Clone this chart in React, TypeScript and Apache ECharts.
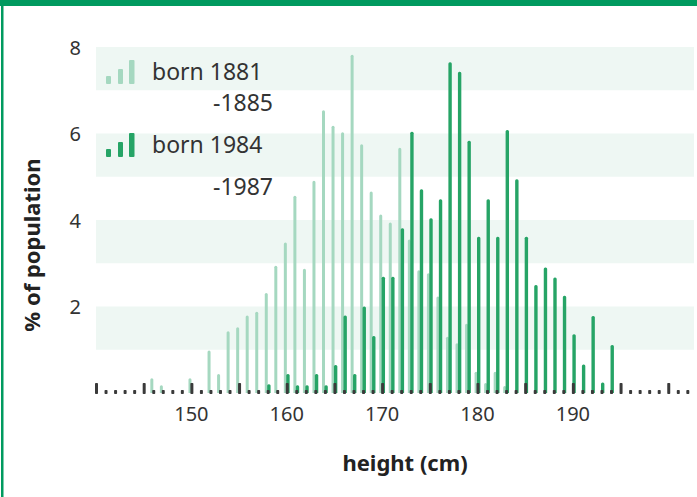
import React, { useEffect, useRef } from "react";
import * as echarts from "echarts";

// heights (cm) and % of population, born 1881-1885
const cm1881 = [146, 147, 150, 152, 153, 154, 155, 156, 157, 158, 159, 160, 161, 162, 163, 164, 165, 166, 167, 168, 169, 170, 171, 172, 173, 174, 175, 176, 177, 178, 179, 180, 181, 182, 183];
const pct1881 = [0.34, 0.18, 0.34, 0.98, 0.44, 1.43, 1.52, 1.79, 1.88, 2.31, 2.94, 3.48, 4.56, 2.87, 4.91, 6.54, 6.18, 6.03, 7.82, 5.75, 4.66, 4.13, 3.94, 5.67, 3.55, 2.84, 2.77, 2.23, 1.3, 1.15, 1.6, 0.49, 0.23, 0.49, 0.16];

// born 1984-1987
const cm1984 = [158, 160, 161, 162, 163, 164, 165, 166, 167, 168, 169, 170, 171, 172, 173, 174, 175, 176, 177, 178, 179, 180, 181, 182, 183, 184, 185, 186, 187, 188, 189, 190, 191, 192, 193, 194];
const pct1984 = [0.2, 0.44, 0.18, 0.18, 0.44, 0.18, 0.65, 1.79, 0.44, 2.0, 1.32, 2.69, 2.69, 3.81, 6.04, 4.71, 4.04, 4.48, 7.65, 7.43, 5.83, 3.61, 4.48, 3.61, 6.08, 4.94, 3.61, 2.5, 2.9, 2.67, 2.25, 1.36, 0.66, 1.78, 0.24, 1.11];

// axis tick positions (cm)
const tickCm = [140, 141, 142, 143, 144, 145, 146, 147, 148, 149, 150, 151, 152, 153, 154, 155, 156, 157, 158, 159, 160, 161, 162, 163, 164, 165, 166, 167, 168, 169, 170, 171, 172, 173, 174, 175, 176, 177, 178, 179, 180, 181, 182, 183, 184, 185, 186, 187, 188, 189, 190, 191, 192, 193, 194, 195, 196, 197, 198, 199, 200, 201, 202];
const xTickLabels = [150, 160, 170, 180, 190];
const yTickLabels = [2, 4, 6, 8];

const LIGHT = "#a5d8c0";
const DARK = "#26a466";
const BAND = "#eef7f3";
const FRAME = "#009a5f";
const TEXT = "#333333";
const FONT = "'Noto Sans', 'Open Sans', sans-serif";

export default function App() {
  const ref = useRef<HTMLDivElement>(null);
  useEffect(() => {
    if (!ref.current) return;
    const chart = echarts.init(ref.current, undefined, { renderer: "svg" });
    const legendBars = (y0: number, color: string) => [
      { type: "rect", z: 100, shape: { x: 106, y: y0 - 8, width: 5, height: 8, r: 1 }, style: { fill: color } },
      { type: "rect", z: 100, shape: { x: 118, y: y0 - 15, width: 5, height: 15, r: 1 }, style: { fill: color } },
      { type: "rect", z: 100, shape: { x: 129, y: y0 - 24, width: 5.5, height: 24, r: 1 }, style: { fill: color } },
    ];
    const legendText = (x: number, y: number, text: string) => ({
      type: "text",
      z: 100,
      x,
      y,
      style: { text, fill: TEXT, font: `23px ${FONT}`, textVerticalAlign: "middle", textAlign: "left" },
    });
    chart.setOption({
      animation: false,
      backgroundColor: "#ffffff",
      grid: { left: 96, right: 0, top: 47, bottom: 104 },
      xAxis: {
        type: "value",
        min: 140,
        max: 202.7,
        interval: 10,
        axisLine: { show: false },
        axisTick: { show: false },
        splitLine: { show: false },
        axisLabel: {
          margin: 10,
          color: TEXT,
          fontSize: 20,
          fontFamily: FONT,
          formatter: (v: number) => (xTickLabels.indexOf(v) >= 0 ? String(v) : ""),
        },
      },
      yAxis: {
        type: "value",
        min: 0,
        max: 8,
        interval: 1,
        axisLine: { show: false },
        axisTick: { show: false },
        splitLine: { show: false },
        splitArea: { show: true, areaStyle: { color: ["rgba(255,255,255,0)", BAND] } },
        axisLabel: {
          margin: 15,
          color: TEXT,
          fontSize: 20,
          fontFamily: FONT,
          formatter: (v: number) => (yTickLabels.indexOf(v) >= 0 ? String(v) : ""),
        },
      },
      series: [
        {
          name: "born 1881-1885",
          type: "bar",
          data: cm1881.map((c, i) => [c, pct1881[i]]),
          barWidth: 3,
          barGap: "-20%",
          itemStyle: { color: LIGHT, borderRadius: [1.5, 1.5, 0, 0] },
          z: 2,
        },
        {
          name: "born 1984-1987",
          type: "bar",
          data: cm1984.map((c, i) => [c, pct1984[i]]),
          barWidth: 3.4,
          barGap: "-20%",
          itemStyle: { color: DARK, borderRadius: [1.5, 1.5, 0, 0] },
          z: 3,
        },
        {
          type: "custom",
          data: tickCm.map((c) => [c, 0]),
          z: 5,
          clip: false,
          silent: true,
          renderItem: (params: any, api: any) => {
            const c = api.value(0);
            const p = api.coord([c, 0]);
            const major = c % 5 === 0;
            const h = major ? 11 : 4;
            return {
              type: "rect",
              shape: { x: p[0] - 1, y: p[1] - h + 1, width: 3, height: h, r: 0.8 },
              style: { fill: "#3a3a3a" },
            };
          },
        },
      ],
      graphic: [
        { type: "rect", shape: { x: 0, y: 0, width: 697, height: 6 }, style: { fill: FRAME }, z: 100 },
        { type: "rect", shape: { x: 1, y: 0, width: 2.5, height: 497 }, style: { fill: FRAME }, z: 100 },
        ...legendBars(84, LIGHT),
        legendText(152, 71, "born 1881"),
        legendText(213, 102, "-1885"),
        ...legendBars(157, DARK),
        legendText(152, 144, "born 1984"),
        legendText(213, 186, "-1987"),
        {
          type: "text",
          z: 100,
          x: 31,
          y: 245,
          rotation: Math.PI / 2,
          style: {
            text: "% of population",
            fill: "#222",
            font: `bold 22px ${FONT}`,
            textAlign: "center",
            textVerticalAlign: "middle",
          },
        },
        {
          type: "text",
          z: 100,
          x: 405,
          y: 462,
          style: {
            text: "height (cm)",
            fill: "#222",
            font: `bold 22px ${FONT}`,
            textAlign: "center",
            textVerticalAlign: "middle",
          },
        },
      ],
    });
    return () => chart.dispose();
  }, []);
  return (
    <div
      ref={ref}
      style={{ position: "fixed", left: 0, top: 0, width: 697, height: 497, background: "#fff" }}
    />
  );
}
